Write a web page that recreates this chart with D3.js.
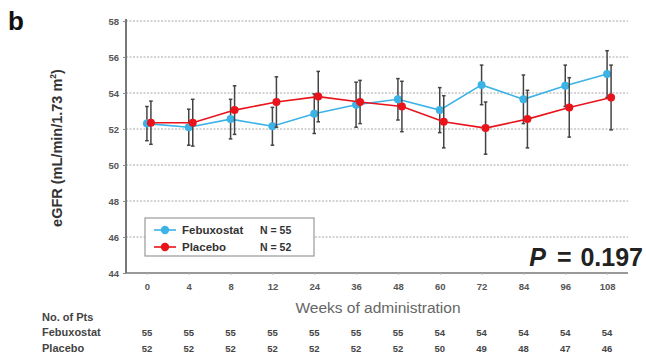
<!DOCTYPE html>
<html>
<head>
<meta charset="utf-8">
<script src="https://cdn.jsdelivr.net/npm/d3@7"></script>
<style>
  html, body { margin: 0; padding: 0; background: #fff; }
  svg { display: block; font-family: "Liberation Sans", Arial, sans-serif; }
</style>
</head>
<body>
<svg id="chart" width="646" height="356"></svg>
<script>
// Visit weeks (x categories)
const weeks = ["0", "4", "8", "12", "24", "36", "48", "60", "72", "84", "96", "108"];

// Mean eGFR (mL/min/1.73 m²) per visit
const febuxostatMean = [52.3, 52.1, 52.55, 52.15, 52.85, 53.35, 53.65, 53.05, 54.45, 53.65, 54.4, 55.05];
const placeboMean    = [52.35, 52.35, 53.05, 53.5, 53.8, 53.5, 53.25, 52.4, 52.05, 52.55, 53.2, 53.75];

// Half-length of error bars
const febuxostatErr = [0.95, 1.0, 1.1, 1.05, 1.1, 1.25, 1.15, 1.25, 1.1, 1.35, 1.15, 1.3];
const placeboErr    = [1.2, 1.3, 1.35, 1.4, 1.4, 1.2, 1.4, 1.45, 1.45, 1.6, 1.65, 1.8];

// Number of patients per visit
const febuxostatN = [55, 55, 55, 55, 55, 55, 55, 54, 54, 54, 54, 54];
const placeboN    = [52, 52, 52, 52, 52, 52, 52, 50, 49, 48, 47, 46];

const yTicks = [44, 46, 48, 50, 52, 54, 56, 58];

const series = [
  { name: "Febuxostat", n: 55, mean: febuxostatMean, err: febuxostatErr, color: "#3bb3e6", dx: 0 },
  { name: "Placebo",    n: 52, mean: placeboMean,    err: placeboErr,    color: "#e8131b", dx: 4 }
];

const svg = d3.select("#chart");
const plotL = 126, plotR = 628, plotT = 21, plotB = 273;

const x = d3.scalePoint().domain(weeks).range([plotL, plotR]).padding(0.5);
const y = d3.scaleLinear().domain([44, 58]).range([plotB, plotT]);

// Panel letter
svg.append("text").attr("x", 8).attr("y", 30)
  .attr("font-size", 26).attr("font-weight", "bold").attr("fill", "#111").text("b");

// Dashed horizontal gridlines
svg.append("g").selectAll("line").data(yTicks.filter(t => t > 44)).join("line")
  .attr("x1", plotL).attr("x2", plotR)
  .attr("y1", d => y(d)).attr("y2", d => y(d))
  .attr("stroke", "#a8a8a8").attr("stroke-width", 1).attr("stroke-dasharray", "2,1.5");

// Y axis
const yAxis = svg.append("g").attr("transform", `translate(${plotL},0)`)
  .call(d3.axisLeft(y).tickValues(yTicks).tickSize(3).tickPadding(4).tickFormat(d3.format("d")));
yAxis.select(".domain").attr("stroke", "#777").attr("stroke-width", 2).attr("d", `M0,${plotT - 2}V${plotB}`);
yAxis.selectAll(".tick line").attr("stroke", "#888");
yAxis.selectAll("text").attr("font-size", 9.5).attr("font-weight", "bold").attr("fill", "#555");

// X axis
const xAxis = svg.append("g").attr("transform", `translate(0,${plotB})`)
  .call(d3.axisBottom(x).tickSize(2).tickPadding(8));
xAxis.select(".domain").attr("stroke", "#777").attr("stroke-width", 1.5).attr("d", `M${plotL},0H${plotR}`);
xAxis.selectAll(".tick line").attr("stroke", "#bbb");
xAxis.selectAll("text").attr("font-size", 9.5).attr("font-weight", "bold").attr("fill", "#555");

// Axis titles
svg.append("text").attr("x", 378).attr("y", 313).attr("text-anchor", "middle")
  .attr("font-size", 15.5).attr("fill", "#666").text("Weeks of administration");

const yt = svg.append("text")
  .attr("transform", "translate(62,148) rotate(-90)")
  .attr("text-anchor", "middle").attr("font-size", 14.5).attr("font-weight", "bold").attr("fill", "#333");
yt.append("tspan").text("eGFR (mL/min/1.73 m");
yt.append("tspan").attr("font-size", 8.5).attr("dy", -6).text("2");
yt.append("tspan").attr("dy", 6).text(")");

// Error bars, lines, markers
series.forEach(s => {
  const g = svg.append("g");
  const pts = weeks.map((w, i) => ({ w, m: s.mean[i], e: s.err[i] }));
  const eb = g.selectAll("g.eb").data(pts).join("g").attr("class", "eb");
  eb.append("line")
    .attr("x1", d => x(d.w) + s.dx).attr("x2", d => x(d.w) + s.dx)
    .attr("y1", d => y(d.m + d.e)).attr("y2", d => y(d.m - d.e))
    .attr("stroke", "#444").attr("stroke-width", 1.5);
  [1, -1].forEach(sign => {
    eb.append("line")
      .attr("x1", d => x(d.w) + s.dx - 1.8).attr("x2", d => x(d.w) + s.dx + 1.8)
      .attr("y1", d => y(d.m + sign * d.e)).attr("y2", d => y(d.m + sign * d.e))
      .attr("stroke", "#444").attr("stroke-width", 1.5);
  });
  g.append("path").datum(pts)
    .attr("fill", "none").attr("stroke", s.color).attr("stroke-width", 1.6)
    .attr("d", d3.line().x(d => x(d.w) + s.dx).y(d => y(d.m)));
  g.selectAll("circle").data(pts).join("circle")
    .attr("cx", d => x(d.w) + s.dx).attr("cy", d => y(d.m)).attr("r", 4)
    .attr("fill", s.color);
});

// Legend
const lg = svg.append("g").attr("transform", "translate(145,218)");
lg.append("rect").attr("width", 169).attr("height", 38)
  .attr("fill", "#fff").attr("stroke", "#999").attr("stroke-width", 1.2);
series.forEach((s, i) => {
  const row = lg.append("g").attr("transform", `translate(0,${12 + i * 17})`);
  row.append("line").attr("x1", 9).attr("x2", 31).attr("stroke", s.color).attr("stroke-width", 1.6);
  row.append("circle").attr("cx", 20).attr("r", 4.2).attr("fill", s.color);
  row.append("text").attr("x", 37).attr("y", 4).attr("font-size", 11.5).attr("font-weight", "bold")
    .attr("fill", "#333").text(s.name);
  row.append("text").attr("x", 115).attr("y", 4).attr("font-size", 10.5).attr("font-weight", "bold")
    .attr("fill", "#333").text(`N = ${s.n}`);
});

// P value
const pt = svg.append("text").attr("x", 643).attr("y", 266).attr("text-anchor", "end")
  .attr("font-size", 25).attr("font-weight", "bold").attr("fill", "#222");
pt.append("tspan").attr("font-style", "italic").text("P");
pt.append("tspan").attr("dx", 4).text(" = ");
pt.append("tspan").attr("dx", 2).text("0.197");

// Patients-at-risk table
svg.append("text").attr("x", 42).attr("y", 321).attr("font-size", 11).attr("font-weight", "bold")
  .attr("fill", "#444").text("No. of Pts");
[[series[0].name, febuxostatN, 336], [series[1].name, placeboN, 352]].forEach(([name, ns, yy]) => {
  svg.append("text").attr("x", 42).attr("y", yy).attr("font-size", 11).attr("font-weight", "bold")
    .attr("fill", "#444").text(name);
  svg.append("g").selectAll("text").data(weeks).join("text")
    .attr("x", d => x(d)).attr("y", yy).attr("text-anchor", "middle")
    .attr("font-size", 9.5).attr("font-weight", "bold").attr("fill", "#444")
    .text((d, i) => ns[i]);
});
</script>
</body>
</html>
